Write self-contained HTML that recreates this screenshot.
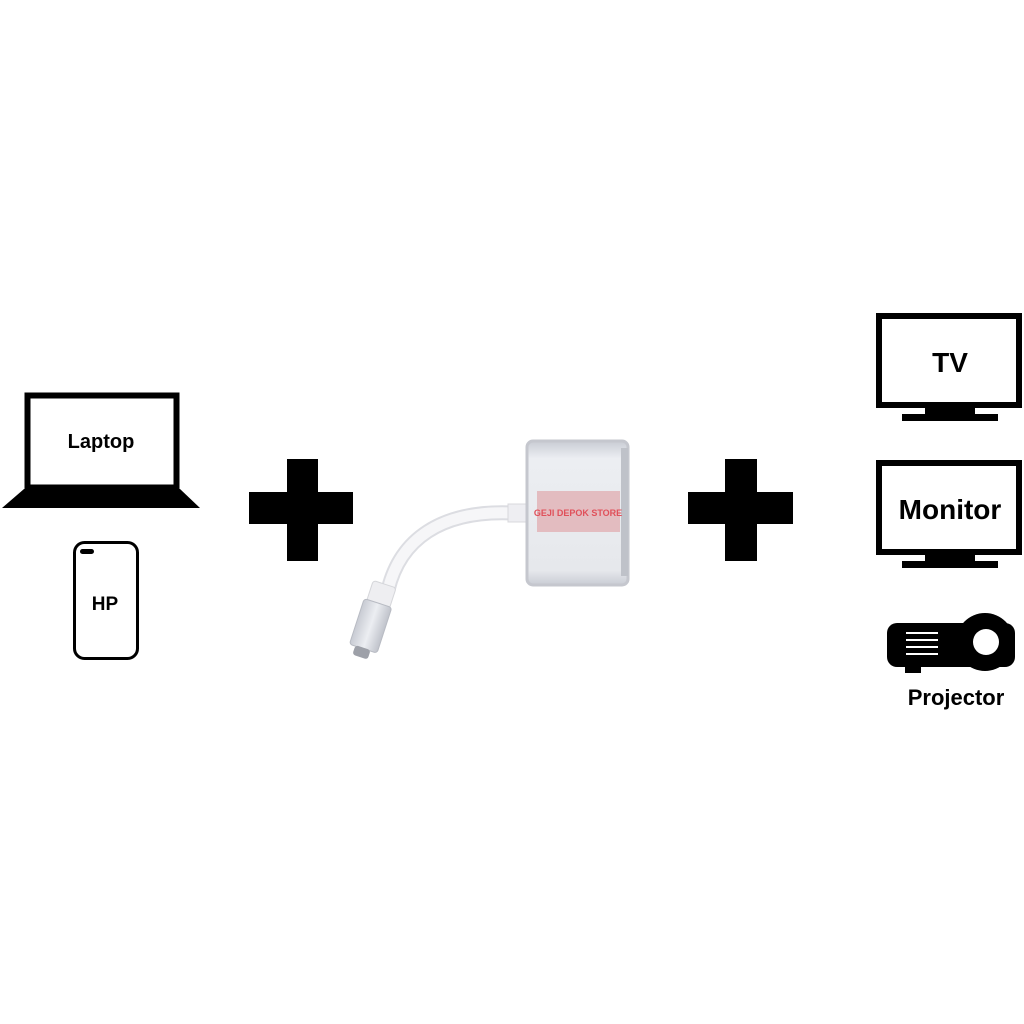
<!DOCTYPE html>
<html><head><style>body{margin:0;background:#fff}svg{display:block}text{font-family:"Liberation Sans",sans-serif;font-weight:bold;fill:#000}</style></head>
<body>
<svg width="1024" height="1024" viewBox="0 0 1024 1024">
<rect x="27.5" y="395.5" width="149" height="92" fill="#fff" stroke="#000" stroke-width="6"/>
<polygon points="24,489 180,489 200,508 2,508" fill="#000"/>
<text x="101" y="448" font-size="20" text-anchor="middle">Laptop</text>
<rect x="74.5" y="542.5" width="63" height="116" rx="10" fill="#fff" stroke="#000" stroke-width="3"/>
<rect x="80" y="549" width="14" height="5" rx="2.5" fill="#000"/>
<text x="105" y="610" font-size="19" text-anchor="middle">HP</text>
<rect x="249" y="492" width="104" height="32" fill="#000"/>
<rect x="287" y="459" width="31" height="102" fill="#000"/>
<rect x="688" y="492" width="105" height="32" fill="#000"/>
<rect x="725" y="459" width="32" height="102" fill="#000"/>
<defs><linearGradient id="sv" x1="0" x2="1"><stop offset="0" stop-color="#c8cbd3"/><stop offset="0.5" stop-color="#eceef2"/><stop offset="1" stop-color="#c0c3cb"/></linearGradient>
<linearGradient id="ad" x1="0" y1="0" x2="0" y2="1"><stop offset="0" stop-color="#c9ccd4"/><stop offset="0.12" stop-color="#eceef2"/><stop offset="0.9" stop-color="#e6e8ec"/><stop offset="1" stop-color="#c9ccd4"/></linearGradient></defs>
<path d="M512,513 C440,510 400,540 388,590" fill="none" stroke="#dcdde2" stroke-width="15" stroke-linecap="round"/>
<path d="M512,513 C440,510 400,540 388,590" fill="none" stroke="#f6f6f8" stroke-width="11" stroke-linecap="round"/>
<rect x="508" y="504" width="20" height="18" fill="#eeeef2" stroke="#d8d8dc"/>
<g transform="rotate(18 372 620)">
<rect x="361" y="582" width="24" height="22" rx="3" fill="#eeeef1" stroke="#d5d6da"/>
<rect x="358" y="602" width="29" height="48" rx="3" fill="url(#sv)" stroke="#b8bbc3"/>
<rect x="364" y="649" width="16" height="10" rx="3" fill="#9da0a8"/>
</g>
<rect x="527" y="441" width="101" height="144" rx="6" fill="url(#ad)" stroke="#c5c7ce" stroke-width="3"/>
<rect x="621" y="448" width="7" height="128" fill="#bfc2c9"/>
<rect x="537" y="491" width="83" height="41" fill="#e3bcc0"/>
<text x="578" y="516" font-size="9" text-anchor="middle" style="fill:#e0505a">GEJI DEPOK STORE</text>
<rect x="879" y="316" width="140" height="89" fill="#fff" stroke="#000" stroke-width="6"/>
<rect x="925" y="408" width="50" height="7" fill="#000"/>
<rect x="902" y="414" width="96" height="7" fill="#000"/>
<text x="950" y="372" font-size="28" text-anchor="middle">TV</text>
<rect x="879" y="463" width="140" height="89" fill="#fff" stroke="#000" stroke-width="6"/>
<rect x="925" y="555" width="50" height="7" fill="#000"/>
<rect x="902" y="561" width="96" height="7" fill="#000"/>
<text x="950" y="519" font-size="28" text-anchor="middle">Monitor</text>
<rect x="887" y="623" width="128" height="44" rx="10" fill="#000"/>
<rect x="905" y="665" width="16" height="8" fill="#000"/>
<circle cx="985" cy="642" r="29" fill="#000"/>
<circle cx="986" cy="642" r="13" fill="#fff"/>
<g stroke="#fff" stroke-width="2"><line x1="906" y1="633" x2="938" y2="633"/><line x1="906" y1="640" x2="938" y2="640"/><line x1="906" y1="647" x2="938" y2="647"/><line x1="906" y1="654" x2="938" y2="654"/></g>
<text x="956" y="705" font-size="22" text-anchor="middle">Projector</text>
</svg>
</body></html>
